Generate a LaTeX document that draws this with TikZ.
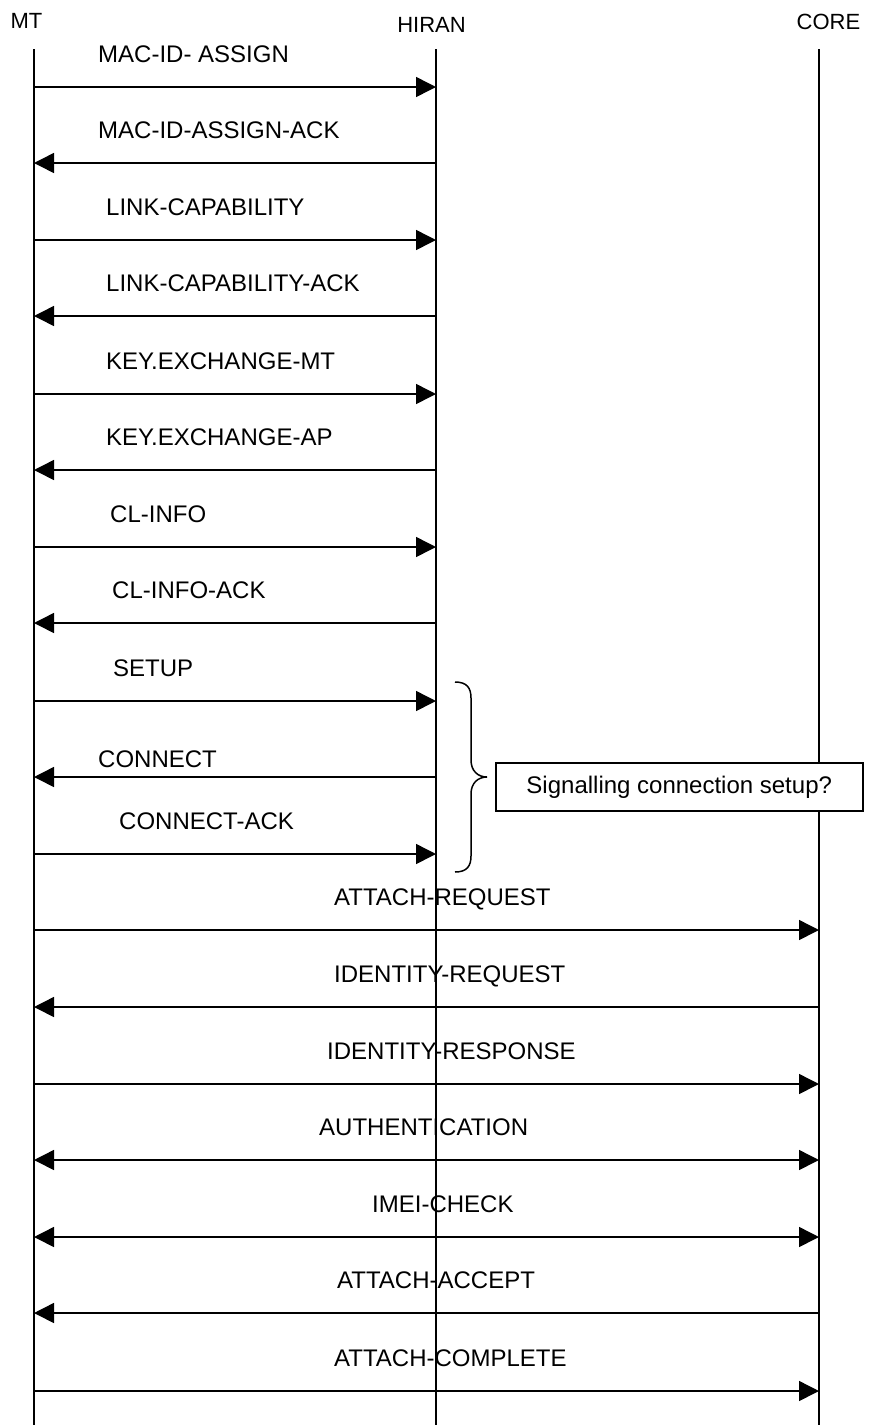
\documentclass[tikz,border=0pt]{standalone}
\usepackage{fontspec}
\setmainfont{Liberation Sans}
\usetikzlibrary{arrows.meta}
\begin{document}
\begin{tikzpicture}[x=1pt,y=-1pt,
  lifeline/.style={line width=1.5pt},
  tipshape/.tip={Triangle[length=20pt,width=20pt]},
  msg/.style={line width=1.5pt,-tipshape},
  both/.style={line width=1.5pt,tipshape-tipshape},
  lbl/.style={anchor=base west,inner sep=0pt,font=\fontsize{24}{28}\selectfont},
  head/.style={anchor=base,inner sep=0pt,font=\fontsize{22}{26}\selectfont},
  note/.style={draw,line width=1.5pt,fill=white,inner sep=0pt,minimum width=367pt,minimum height=48pt,font=\fontsize{24}{28}\selectfont}]
\useasboundingbox (0,0) rectangle (869,1425);

% participants
\node[head] (mt) at (26.5,28) {MT};
\node[head] (hiran) at (431.5,32) {HIRAN};
\node[head] (core) at (828.5,29) {CORE};

% lifelines
\coordinate (mttop) at (34,49);   \coordinate (mtbot) at (34,1425);
\coordinate (hitop) at (436,49);  \coordinate (hibot) at (436,1425);
\coordinate (cotop) at (819,49);  \coordinate (cobot) at (819,1425);
\draw[lifeline] (mttop) -- (mtbot);
\draw[lifeline] (hitop) -- (hibot);
\draw[lifeline] (cotop) -- (cobot);

% message anchor points on each lifeline
\foreach \i/\y in {1/87,2/163,3/240,4/316,5/394,6/470,7/547,8/623,9/701,
                   10/777,11/854,12/930,13/1007,14/1084,15/1160,16/1237,
                   17/1313,18/1391}{
  \coordinate (mt\i) at (34,\y);
  \coordinate (hi\i) at (436,\y);
  \coordinate (co\i) at (819,\y);
}

% message labels
\node[lbl] (l1)  at (98,62)    {MAC-ID- ASSIGN};
\node[lbl] (l2)  at (98,138)   {MAC-ID-ASSIGN-ACK};
\node[lbl] (l3)  at (106,215)  {LINK-CAPABILITY};
\node[lbl] (l4)  at (106,291)  {LINK-CAPABILITY-ACK};
\node[lbl] (l5)  at (106,369)  {KEY.EXCHANGE-MT};
\node[lbl] (l6)  at (106,445)  {KEY.EXCHANGE-AP};
\node[lbl] (l7)  at (110,522)  {CL-INFO};
\node[lbl] (l8)  at (112,598)  {CL-INFO-ACK};
\node[lbl] (l9)  at (113,676)  {SETUP};
\node[lbl] (l10) at (98,767)   {CONNECT};
\node[lbl] (l11) at (119,829)  {CONNECT-ACK};
\node[lbl] (l12) at (334,905)  {ATTACH-REQUEST};
\node[lbl] (l13) at (334,982)  {IDENTITY-REQUEST};
\node[lbl] (l14) at (327,1059) {IDENTITY-RESPONSE};
\node[lbl] (l15) at (319,1135) {AUTHENTICATION};
\node[lbl] (l16) at (372,1212) {IMEI-CHECK};
\node[lbl] (l17) at (337,1288) {ATTACH-ACCEPT};
\node[lbl] (l18) at (334,1366) {ATTACH-COMPLETE};

% messages
\draw[msg] (mt1) -- (hi1);
\draw[msg] (hi2) -- (mt2);
\draw[msg] (mt3) -- (hi3);
\draw[msg] (hi4) -- (mt4);
\draw[msg] (mt5) -- (hi5);
\draw[msg] (hi6) -- (mt6);
\draw[msg] (mt7) -- (hi7);
\draw[msg] (hi8) -- (mt8);
\draw[msg] (mt9) -- (hi9);
\draw[msg] (hi10) -- (mt10);
\draw[msg] (mt11) -- (hi11);
\draw[msg] (mt12) -- (co12);
\draw[msg] (co13) -- (mt13);
\draw[msg] (mt14) -- (co14);
\draw[both] (mt15) -- (co15);
\draw[both] (mt16) -- (co16);
\draw[msg] (co17) -- (mt17);
\draw[msg] (mt18) -- (co18);

% brace grouping SETUP .. CONNECT-ACK
\draw[line width=1.5pt] (455,682) .. controls (467,682) and (471,688) .. (471,698)
  -- (471,760) .. controls (471,771) and (478,777) .. (487,777)
  .. controls (478,777) and (471,783) .. (471,794)
  -- (471,856) .. controls (471,866) and (467,872) .. (455,872);
\coordinate (bracetip) at (487,777);

\node[note,anchor=west] (sig) at (495,787) {Signalling connection setup?};
\end{tikzpicture}
\end{document}
